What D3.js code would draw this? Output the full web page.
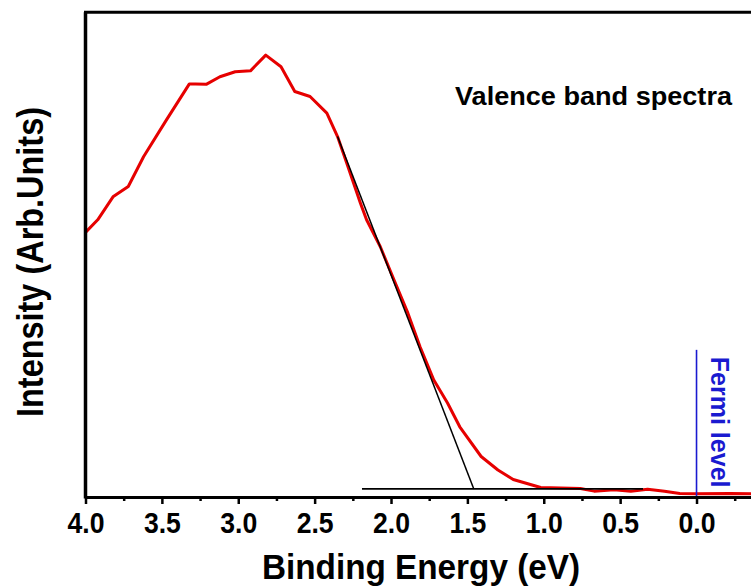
<!DOCTYPE html>
<html>
<head>
<meta charset="utf-8">
<script src="https://cdn.jsdelivr.net/npm/d3@7"></script>
<style>
  body { margin: 0; background: #fff; }
  svg { display: block; font-family: "Liberation Sans", Arial, sans-serif; }
</style>
</head>
<body>
<div id="chart"></div>
<script>
// Valence band spectrum (binding energy in eV, intensity in arb. units)
const energy = [4.00, 3.92, 3.82, 3.72, 3.62, 3.47, 3.32, 3.28, 3.21, 3.12, 3.02, 2.92, 2.82, 2.72,
    2.63, 2.53, 2.42, 2.35, 2.29, 2.20, 2.16, 2.07, 1.98, 1.89, 1.81, 1.72, 1.63, 1.55, 1.41,
    1.30, 1.20, 1.02, 0.76, 0.67, 0.54, 0.43, 0.32, 0.21, 0.11, 0.00, -0.22, -0.36, -0.50];
const intensity = [58.8, 61.6, 66.7, 69.0, 75.6, 83.8, 91.8, 91.8, 91.7, 93.4, 94.5, 94.7, 98.2, 95.6,
    90.1, 89.0, 85.3, 80.1, 74.2, 65.3, 61.6, 55.6, 48.2, 40.9, 33.4, 26.0, 20.9, 15.6, 9.0,
    6.0, 3.9, 2.1, 1.9, 1.3, 1.6, 1.3, 1.7, 1.3, 0.8, 0.7, 0.8, 0.7, 0.7];

// linear extrapolation of the leading edge and the background line
const tangentE = [2.35, 1.458];
const tangentI = [80.1, 1.8];
const baselineE = [2.19, 0.35];
const baselineI = [1.8, 1.8];

// Fermi level marker
const fermiE = 0.0;
const fermiI = [0, 32.7];

const majorTicks = [4.0, 3.5, 3.0, 2.5, 2.0, 1.5, 1.0, 0.5, 0.0];
const minorTicks = [3.75, 3.25, 2.75, 2.25, 1.75, 1.25, 0.75, 0.25, -0.25];

const width = 751;
const height = 586;

const x = d3.scaleLinear().domain([4.0, -0.5]).range([85.5, 772.9]);
const y = d3.scaleLinear().domain([0, 100]).range([497, 47]);
const yTop = y(107.7);

const svg = d3.select("#chart").append("svg")
    .attr("width", width)
    .attr("height", height);

const line = d3.line()
    .x(d => x(d[0]))
    .y(d => y(d[1]));

// spectrum
svg.append("path")
    .datum(energy.map((e, i) => [e, intensity[i]]))
    .attr("fill", "none")
    .attr("stroke", "#e60000")
    .attr("stroke-width", 3)
    .attr("stroke-linejoin", "round")
    .attr("d", line);

// tangent + baseline
svg.append("path")
    .datum(tangentE.map((e, i) => [e, tangentI[i]]))
    .attr("fill", "none")
    .attr("stroke", "#000")
    .attr("stroke-width", 1.5)
    .attr("d", line);

svg.append("path")
    .datum(baselineE.map((e, i) => [e, baselineI[i]]))
    .attr("fill", "none")
    .attr("stroke", "#000")
    .attr("stroke-width", 1.8)
    .attr("d", line);

// Fermi level
svg.append("line")
    .attr("x1", x(fermiE)).attr("x2", x(fermiE))
    .attr("y1", y(fermiI[0])).attr("y2", y(fermiI[1]))
    .attr("stroke", "#1a1ad0")
    .attr("stroke-width", 1.6);

svg.append("text")
    .attr("transform", "translate(" + (x(fermiE) + 14) + "," + (y(fermiI[1]) + 7) + ") rotate(90)")
    .attr("fill", "#1a1ad0")
    .attr("font-size", 25)
    .attr("font-weight", "bold")
    .text("Fermi level");

// axes
const xAxis = svg.append("g")
    .attr("transform", "translate(0," + y(0) + ")")
    .call(d3.axisBottom(x).tickValues(majorTicks).tickSize(7).tickSizeOuter(0)
        .tickFormat(d3.format(".1f")));

xAxis.select(".domain").attr("stroke-width", 3);
xAxis.selectAll(".tick line").attr("stroke-width", 2.5);
xAxis.selectAll(".tick text")
    .attr("y", 36)
    .attr("dy", 0)
    .attr("font-size", 30)
    .attr("font-weight", "bold")
    .attr("font-family", "'Liberation Sans', Arial, sans-serif")
    .attr("fill", "#000")
    .attr("textLength", 37)
    .attr("lengthAdjust", "spacingAndGlyphs");

svg.append("g")
    .attr("transform", "translate(0," + y(0) + ")")
    .call(d3.axisBottom(x).tickValues(minorTicks).tickSize(4).tickSizeOuter(0).tickFormat(""))
    .call(g => g.select(".domain").remove())
    .selectAll(".tick line").attr("stroke-width", 2.5);

// frame: left axis (no ticks) and top border
svg.append("line")
    .attr("x1", 85.5).attr("x2", 85.5)
    .attr("y1", yTop).attr("y2", y(0) + 1.5)
    .attr("stroke", "#000")
    .attr("stroke-width", 3.5);

svg.append("line")
    .attr("x1", 84).attr("x2", width)
    .attr("y1", yTop).attr("y2", yTop)
    .attr("stroke", "#000")
    .attr("stroke-width", 3);

// labels
svg.append("text")
    .attr("x", 455)
    .attr("y", 105)
    .attr("font-size", 26)
    .attr("font-weight", "bold")
    .attr("textLength", 277)
    .attr("lengthAdjust", "spacingAndGlyphs")
    .text("Valence band spectra");

svg.append("text")
    .attr("x", 421)
    .attr("y", 579)
    .attr("text-anchor", "middle")
    .attr("font-size", 35)
    .attr("font-weight", "bold")
    .attr("textLength", 318)
    .attr("lengthAdjust", "spacingAndGlyphs")
    .text("Binding Energy (eV)");

svg.append("text")
    .attr("transform", "translate(43,262) rotate(-90)")
    .attr("text-anchor", "middle")
    .attr("font-size", 36)
    .attr("font-weight", "bold")
    .attr("textLength", 310)
    .attr("lengthAdjust", "spacingAndGlyphs")
    .text("Intensity (Arb.Units)");
</script>
</body>
</html>
